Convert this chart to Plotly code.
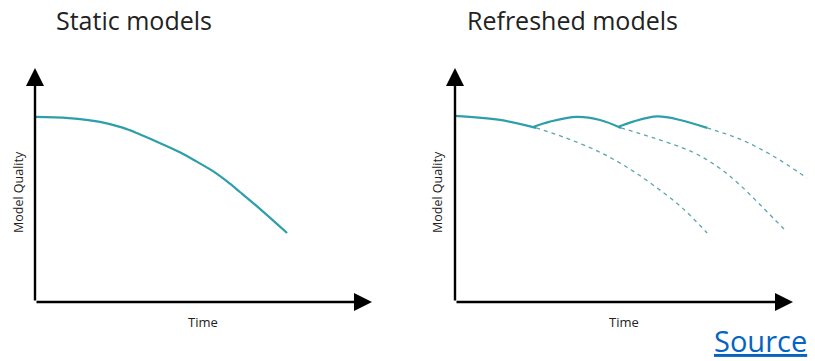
import plotly.graph_objects as go

# ---- data (time units 0-100, quality units 0-100) ----
static_time = [0, 10, 19.3, 26, 31.2, 37, 43.0, 48, 52.8, 57, 60.8, 67, 74.8]
static_quality = [79.1, 78.6, 77.0, 74.5, 71.6, 68.0, 64.0, 60.0, 55.9, 51.5, 47.0, 39.5, 29.5]

# refreshed model: three solid segments (None separates the retrain cusps)
refresh_time = [0, 13.3, 24.0, None, 23.1, 28.1, 36.1, 42.9, 49.1, None, 48.2, 52.7, 59.8, 66.6, 74.6]
refresh_quality = [79.5, 77.8, 74.4, None, 74.8, 77.1, 79.1, 77.8, 74.4, None, 74.8, 77.1, 79.3, 77.8, 74.4]

decay1_time = [24.0, 33, 42.9, 51, 58.6, 67, 74.6]
decay1_quality = [74.4, 70.0, 64.0, 57.5, 50.0, 40.5, 29.5]

decay2_time = [49.1, 59, 70.4, 78, 84.3, 91, 98.2]
decay2_quality = [74.4, 70.0, 64.0, 57.5, 50.0, 40.5, 29.9]

decay3_time = [74.6, 84.3, 94, 104.1]
decay3_quality = [74.4, 69.6, 62.5, 53.0]

titles = ["Static models", "Refreshed models"]
x_label = "Time"
y_label = "Model Quality"
source_text = "Source"

TEAL = "#2d9fa8"
DASH = "#5aa6ab"
FONT = "Open Sans"

fig = go.Figure()

fig.add_trace(go.Scatter(x=static_time, y=static_quality, mode="lines",
                         line=dict(color=TEAL, width=2.2, shape="spline", smoothing=1.0),
                         xaxis="x", yaxis="y", showlegend=False, hoverinfo="skip"))

for xs, ys in [(decay1_time, decay1_quality), (decay2_time, decay2_quality), (decay3_time, decay3_quality)]:
    fig.add_trace(go.Scatter(x=xs, y=ys, mode="lines",
                             line=dict(color=DASH, width=1.3, dash="4px,4px", shape="spline"),
                             xaxis="x2", yaxis="y2", showlegend=False, hoverinfo="skip"))

fig.add_trace(go.Scatter(x=refresh_time, y=refresh_quality, mode="lines", connectgaps=False,
                         line=dict(color=TEAL, width=2.2, shape="spline", smoothing=1.0),
                         xaxis="x2", yaxis="y2", showlegend=False, hoverinfo="skip"))

W, H = 815, 361
ydom = [1 - 302 / H, 1 - 68 / H]
axis_common = dict(showgrid=False, zeroline=False, showticklabels=False, showline=False, ticks="", fixedrange=True)

fig.update_layout(
    width=W, height=H,
    margin=dict(l=0, r=0, t=0, b=0),
    paper_bgcolor="white", plot_bgcolor="rgba(0,0,0,0)",
    xaxis=dict(domain=[35 / W, 372 / W], range=[0, 100], **axis_common),
    yaxis=dict(domain=ydom, range=[0, 100], **axis_common),
    xaxis2=dict(domain=[455 / W, (455 + 106 * 3.38) / W], range=[0, 106], anchor="y2", **axis_common),
    yaxis2=dict(domain=ydom, range=[0, 100], anchor="x2", **axis_common),
)

annotations = []
for xr, yr in [("x", "y"), ("x2", "y2")]:
    annotations.append(dict(x=100, y=0, ax=0, ay=0, xref=xr, yref=yr, axref=xr, ayref=yr,
                            showarrow=True, arrowhead=2, arrowsize=1.5, arrowwidth=2.4,
                            arrowcolor="black", text=""))
    annotations.append(dict(x=0, y=100, ax=0, ay=0, xref=xr, yref=yr, axref=xr, ayref=yr,
                            showarrow=True, arrowhead=2, arrowsize=1.5, arrowwidth=2.4,
                            arrowcolor="black", text=""))

def txt(cx, cy, text, size, color="#222", angle=0, family=FONT):
    return dict(x=cx / W, y=1 - cy / H, xref="paper", yref="paper", text=text,
                xanchor="center", yanchor="middle", textangle=angle, showarrow=False,
                font=dict(family=family, size=size, color=color))

annotations.append(txt(134, 20, titles[0], 25))
annotations.append(txt(572, 20, titles[1], 25))
for cx in [203, 624]:
    annotations.append(txt(cx, 322, x_label, 13))
for cx in [18, 437]:
    annotations.append(txt(cx, 192, y_label, 12.5, angle=-90))
annotations.append(txt(760, 340, "<u>" + source_text + "</u>", 29, color="#0563c1"))

fig.update_layout(annotations=annotations)

fig.write_html("out.html", config={"displayModeBar": False},
               post_script="document.body.style.margin='0';document.body.style.overflow='hidden';")
